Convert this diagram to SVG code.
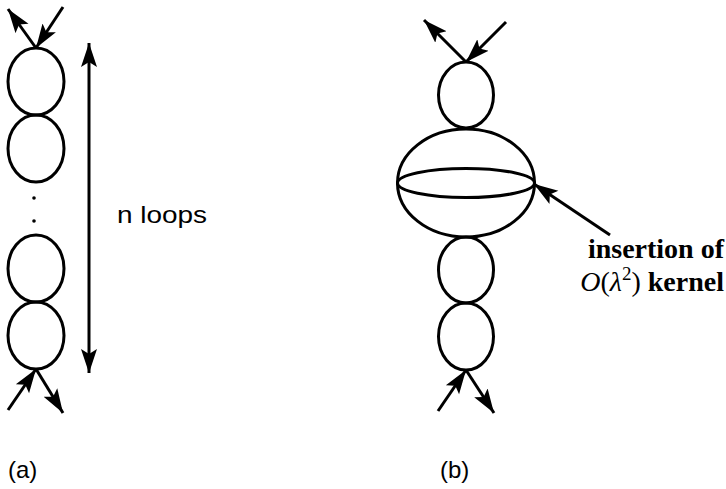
<svg xmlns="http://www.w3.org/2000/svg" width="726" height="489" viewBox="0 0 726 489">
<style>
.loop{fill:none;stroke:#000;stroke-width:3}
.arr{fill:none;stroke:#000;stroke-width:3;marker-end:url(#ah)}
.lab{font-family:"Liberation Sans",Arial,sans-serif;font-size:24px;fill:#000}
.bt{font-family:"Liberation Serif","Times New Roman",serif;font-size:28px;font-weight:bold;fill:#000}
.it{font-family:"Liberation Serif","Times New Roman",serif;font-style:italic;font-weight:normal}
</style>
<defs>
<marker id="ah" markerUnits="userSpaceOnUse" markerWidth="26" markerHeight="20" refX="24" refY="9" orient="auto" viewBox="0 0 26 20">
<path d="M0,1 L24,9 L0,17 L5,9 Z" fill="#000"/>
</marker>
</defs>
<rect width="726" height="489" fill="#fff"/>
<g id="chain-a">
<ellipse class="loop" cx="36" cy="81.5" rx="28" ry="33.5"/>
<ellipse class="loop" cx="36" cy="148.5" rx="28" ry="33.5"/>
<circle cx="34" cy="198" r="1.8" fill="#000"/>
<circle cx="34" cy="221" r="1.8" fill="#000"/>
<ellipse class="loop" cx="36" cy="268.5" rx="28" ry="33.5"/>
<ellipse class="loop" cx="36" cy="335.5" rx="28" ry="33.5"/>
</g>
<g id="chain-b">
<ellipse class="loop" cx="466" cy="95" rx="27.5" ry="33"/>
<ellipse class="loop" cx="466" cy="183" rx="68.5" ry="54"/>
<ellipse class="loop" cx="466" cy="183" rx="68.5" ry="14.5"/>
<ellipse class="loop" cx="466" cy="270" rx="27.5" ry="33"/>
<ellipse class="loop" cx="466" cy="336.5" rx="27.5" ry="33.5"/>
</g>
<g id="connectors">
<line class="arr" x1="63" y1="7" x2="36" y2="48"/>
<line class="arr" x1="36" y1="48" x2="8" y2="9"/>
<line class="arr" x1="8" y1="410" x2="36" y2="369"/>
<line class="arr" x1="36" y1="369" x2="63" y2="413"/>
<line class="arr" x1="89" y1="200" x2="89" y2="43"/>
<line class="arr" x1="89" y1="200" x2="89" y2="373"/>
<line class="arr" x1="506" y1="22" x2="466" y2="62"/>
<line class="arr" x1="466" y1="62" x2="424" y2="20"/>
<line class="arr" x1="438" y1="411" x2="466" y2="370"/>
<line class="arr" x1="466" y1="370" x2="494" y2="413"/>
<line class="arr" x1="610" y1="235" x2="534" y2="184"/>
</g>
<g id="labels">
<text class="lab" x="117" y="223" textLength="90" lengthAdjust="spacingAndGlyphs">n loops</text>
<text class="bt" x="724" y="258" text-anchor="end">insertion of</text>
<text class="bt" x="724" y="291" text-anchor="end"><tspan class="it">O</tspan><tspan font-weight="normal">(</tspan><tspan class="it">λ</tspan><tspan font-weight="normal" font-size="19" dy="-11">2</tspan><tspan font-weight="normal" dy="11">)</tspan> kernel</text>
<text class="lab" x="8" y="478">(a)</text>
<text class="lab" x="440" y="478">(b)</text>
</g>
</svg>
